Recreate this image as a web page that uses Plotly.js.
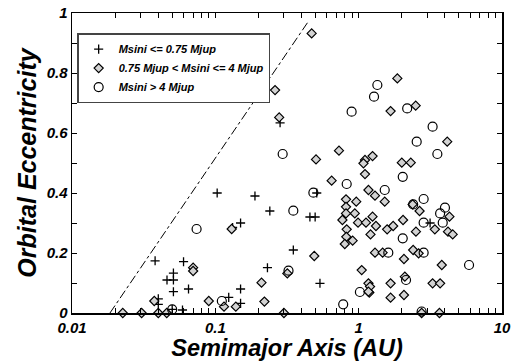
<!DOCTYPE html>
<html><head><meta charset="utf-8">
<script src="https://cdn.plot.ly/plotly-3.0.1.min.js"></script>
<style>html,body{margin:0;padding:0;background:#fff;}</style>
</head><body>
<div id="chart" style="width:514px;height:363px;"></div>
<script>
// Msini <= 0.75 Mjup
var plusA = [0.103,0.189,0.51,0.24,0.457,0.497,0.283,0.132,0.15,0.35,0.231,0.537,0.15,0.124,0.15,0.059,0.038,0.06,0.051,0.046,0.051,0.051,0.065,0.04,0.04,0.05,3.15];
var plusE = [0.40,0.39,0.40,0.34,0.32,0.32,0.634,0.285,0.30,0.21,0.151,0.099,0.08,0.052,0.032,0.01,0.174,0.171,0.133,0.11,0.11,0.071,0.08,0.047,0.029,0.012,0.30];
// 0.75 Mjup < Msini <= 4 Mjup
var diaA = [0.261,0.47,0.279,0.504,0.729,0.648,0.13,0.49,0.318,0.21,0.115,0.139,0.22,0.301,0.09,1.186,0.07,0.07,0.0375,0.0226,0.0306,0.04,0.0458,
            1.862,1.67,2.50,4.15,1.107,1.08,1.25,1.107,2.0,2.31,1.17,1.30,0.962,1.52,2.38,2.66,0.94,1.25,0.99,1.125,0.908,0.816,0.816,0.816,0.77,0.825,0.82,0.80,
            1.05,1.17,1.2,1.17,1.67,1.67,2.07,2.1,2.07,3.28,3.7,3.8,2.75,3.66,1.30,1.47,2.4,2.62,1.21,1.32,1.58,1.74,2.04,2.51,3.4,4.2,4.53,4.3];
var diaE = [0.743,0.932,0.652,0.512,0.541,0.441,0.28,0.19,0.132,0.101,0.021,0.021,0.038,0,0.04,0.068,0.151,0.14,0.04,0,0,0,0,
            0.782,0.673,0.691,0.571,0.51,0.499,0.523,0.463,0.501,0.501,0.41,0.391,0.371,0.371,0.362,0.34,0.332,0.321,0.301,0.301,0.241,0.379,0.354,0.332,0.31,0.279,0.254,0.23,
            0.143,0.099,0.088,0.071,0.099,0.051,0.06,0.121,0.18,0.099,0.099,0.16,0,0,0.201,0.201,0.21,0.199,0.262,0.29,0.279,0.29,0.31,0.271,0.279,0.271,0.262,0.321];
// Msini > 4 Mjup
var circA = [0.893,0.295,0.825,0.483,0.35,0.324,0.111,0.78,1.02,0.074,0.05,1.35,1.28,2.18,3.28,2.54,3.54,2.03,1.52,2.4,2.84,4.0,3.7,2.84,3.86,2.03,1.61,2.84,2.14,5.89,2.75];
var circE = [0.671,0.53,0.43,0.401,0.341,0.141,0.04,0.029,0.07,0.28,0.012,0.76,0.721,0.682,0.621,0.571,0.53,0.454,0.41,0.362,0.38,0.351,0.332,0.301,0.301,0.249,0.201,0.201,0.11,0.16,0.005];
// dash-dot limit line
var limA = [0.0184, 0.44];
var limE = [0, 0.968];
var xTickVals = [0.01,0.1,1,10];
var xTickText = ['0.01','0.1','1','10'];
var yTickVals = [0,0.2,0.4,0.6,0.8,1];
var yTickText = ['0','0.2','0.4','0.6','0.8','1'];

var bi = {family:'Liberation Sans, Arial, sans-serif', weight:'bold', style:'italic', color:'#000'};
function f(size){ return Object.assign({}, bi, {size:size}); }

var xAll = [], xAllText = [];
xTickVals.forEach(function(v, i){
  for (var k = 1; k <= 9; k++) {
    var t = v * k;
    if (t > 10.0001) break;
    xAll.push(t); xAllText.push(k === 1 ? xTickText[i] : '');
  }
});
var yAll = [], yAllText = [];
yTickVals.forEach(function(v, i){
  yAll.push(v); yAllText.push(yTickText[i]);
  if (i < yTickVals.length - 1) { yAll.push((v + yTickVals[i+1]) / 2); yAllText.push(''); }
});

var traces = [
  {x: limA, y: limE, mode:'lines', line:{color:'#000', width:1, dash:'dashdot'}, showlegend:false, hoverinfo:'skip'},
  {x: plusA, y: plusE, mode:'markers', name:'Msini <= 0.75 Mjup', cliponaxis:false,
   marker:{symbol:'cross-thin', size:6.5, line:{color:'#000', width:1.3}}},
  {x: diaA, y: diaE, mode:'markers', name:'0.75 Mjup < Msini <= 4 Mjup', cliponaxis:false,
   marker:{symbol:'diamond', size:7, color:'#d3d3d3', line:{color:'#000', width:1.2}}},
  {x: circA, y: circE, mode:'markers', name:'Msini > 4 Mjup', cliponaxis:false,
   marker:{symbol:'circle-open', size:9, color:'#000', line:{color:'#000', width:1.2}}}
];

var layout = {
  width:514, height:363, autosize:false,
  margin:{l:72, r:12, t:13, b:50, pad:0},
  paper_bgcolor:'#fff', plot_bgcolor:'#fff',
  showlegend:true,
  legend:{x:0.012, y:0.933, xanchor:'left', yanchor:'top', bgcolor:'#fff',
          bordercolor:'#444', borderwidth:1.5, font:f(11), itemwidth:30,
          tracegroupgap:0},
  xaxis:{type:'log', range:[-2,1], tickmode:'array', tickvals:xAll, ticktext:xAllText,
         ticks:'inside', ticklen:5, tickwidth:1, tickcolor:'#000',
         showline:true, linecolor:'#000', linewidth:1.5, mirror:'allticks',
         showgrid:false, zeroline:false, tickfont:f(15), tickangle:0,
         title:{text:'Semimajor Axis (AU)', font:f(23.5), standoff:1}},
  yaxis:{range:[0,1], tickmode:'array', tickvals:yAll, ticktext:yAllText,
         ticks:'inside', ticklen:5, tickwidth:1, tickcolor:'#000',
         showline:true, linecolor:'#000', linewidth:1.5, mirror:'allticks',
         showgrid:false, zeroline:false, tickfont:f(15),
         title:{text:'Orbital Eccentricity', font:f(25), standoff:3}}
};
Plotly.newPlot('chart', traces, layout, {displayModeBar:false, staticPlot:true});
</script>
</body></html>
